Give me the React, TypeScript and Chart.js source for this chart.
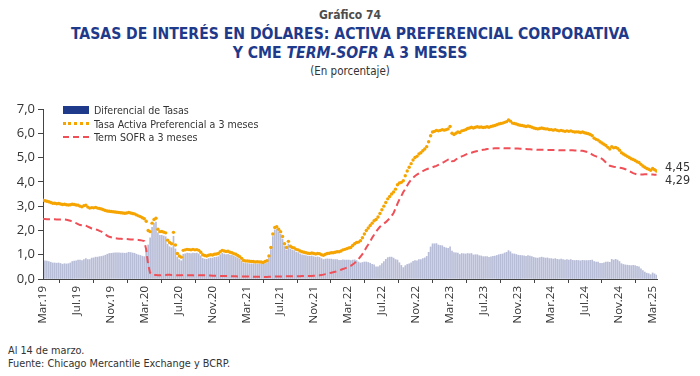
import React, { useEffect, useRef } from 'react';
import { Chart, registerables } from 'chart.js';

Chart.register(...registerables);

// Weekly observations (Fridays) from 1 Mar 2019 to 14 Mar 2025
const START_LABEL = '1 mar 2019';
const tickLabels = [
  'Mar.19', 'Jul.19', 'Nov.19', 'Mar.20', 'Jul.20', 'Nov.20', 'Mar.21', 'Jul.21', 'Nov.21', 'Mar.22',
  'Jul.22', 'Nov.22', 'Mar.23', 'Jul.23', 'Nov.23', 'Mar.24', 'Jul.24', 'Nov.24', 'Mar.25',
];
const tickMonths = [0, 4, 8, 12, 16, 20, 24, 28, 32, 36, 40, 44, 48, 52, 56, 60, 64, 68, 72];
const yTicks = [0, 1, 2, 3, 4, 5, 6, 7];

// Tasa Activa Preferencial a 3 meses (%)
const tasaActiva = [
  // mar.19 - feb.20
  3.24, 3.22, 3.20, 3.18, 3.15, 3.12, 3.12, 3.10, 3.11, 3.09,
  3.07, 3.08, 3.06, 3.05, 3.06, 3.08, 3.07, 3.05, 3.04, 3.00,
  2.97, 3.02, 3.04, 2.96, 2.92, 2.94, 2.93, 2.95, 2.92, 2.90,
  2.88, 2.85, 2.82, 2.80, 2.79, 2.78, 2.77, 2.76, 2.75, 2.74,
  2.73, 2.72, 2.71, 2.72, 2.74, 2.72, 2.70, 2.68, 2.64, 2.60,
  2.57, 2.52, 2.48,
  // mar.20 - feb.21
  2.38, 2.00, 1.95, 2.30, 2.45, 2.50, 2.05, 1.95, 1.96, 1.93,
  1.90, 1.60, 1.50, 1.45, 1.92, 1.40, 1.05, 0.95, 0.90, 1.18,
  1.20, 1.22, 1.21, 1.20, 1.22, 1.20, 1.21, 1.18, 1.10, 1.00,
  0.97, 0.95, 0.98, 1.00, 0.99, 1.02, 1.03, 1.05, 1.12, 1.18,
  1.15, 1.13, 1.14, 1.10, 1.08, 1.04, 1.02, 0.97, 0.92, 0.85,
  0.76, 0.74,
  // mar.21 - feb.22
  0.74, 0.73, 0.72, 0.72, 0.70, 0.71, 0.70, 0.70, 0.68, 0.72,
  0.75, 0.95, 1.30, 1.85, 2.12, 2.15, 2.05, 1.95, 1.75, 1.45,
  1.30, 1.55, 1.35, 1.30, 1.28, 1.22, 1.20, 1.15, 1.12, 1.10,
  1.08, 1.06, 1.05, 1.07, 1.05, 1.03, 1.05, 1.04, 1.00, 0.98,
  1.02, 1.05, 1.06, 1.08, 1.08, 1.10, 1.12, 1.12, 1.15, 1.20,
  1.22, 1.25,
  // mar.22 - feb.23
  1.28, 1.30, 1.38, 1.45, 1.50, 1.52, 1.58, 1.70, 1.85, 2.00,
  2.10, 2.20, 2.30, 2.40, 2.45, 2.55, 2.70, 2.85, 3.00, 3.15,
  3.30, 3.40, 3.50, 3.58, 3.70, 3.88, 3.95, 3.98, 4.05, 4.25,
  4.45, 4.60, 4.75, 4.90, 5.00, 5.05, 5.15, 5.20, 5.28, 5.35,
  5.45, 5.65, 5.90, 6.05, 6.08, 6.12, 6.10, 6.12, 6.15, 6.13,
  6.15, 6.18,
  // mar.23 - feb.24
  6.28, 6.00, 5.95, 6.00, 6.05, 6.03, 6.10, 6.12, 6.15, 6.20,
  6.22, 6.25, 6.22, 6.25, 6.27, 6.25, 6.26, 6.24, 6.25, 6.27,
  6.25, 6.28, 6.30, 6.32, 6.35, 6.38, 6.40, 6.42, 6.45, 6.48,
  6.55, 6.50, 6.42, 6.40, 6.38, 6.35, 6.33, 6.32, 6.30, 6.28,
  6.30, 6.28, 6.25, 6.22, 6.20, 6.18, 6.20, 6.22, 6.20, 6.18,
  6.18, 6.15,
  // mar.24 - mar.25
  6.15, 6.13, 6.15, 6.12, 6.10, 6.12, 6.10, 6.08, 6.10, 6.08,
  6.10, 6.07, 6.05, 6.06, 6.05, 6.03, 6.05, 6.02, 6.00, 5.98,
  5.95, 5.90, 5.80, 5.75, 5.72, 5.65, 5.60, 5.55, 5.50, 5.42,
  5.35, 5.45, 5.40, 5.42, 5.38, 5.30, 5.20, 5.15, 5.10, 5.05,
  5.00, 4.95, 4.92, 4.88, 4.83, 4.80, 4.72, 4.65, 4.60, 4.55,
  4.52, 4.48, 4.55, 4.50, 4.45,
];

// CME Term SOFR a 3 meses (%)
const termSofr = [
  // mar.19 - feb.20
  2.47, 2.47, 2.46, 2.46, 2.46, 2.46, 2.46, 2.45, 2.45, 2.45,
  2.46, 2.45, 2.44, 2.42, 2.40, 2.36, 2.33, 2.30, 2.26, 2.22,
  2.21, 2.22, 2.20, 2.16, 2.12, 2.08, 2.06, 2.05, 2.02, 1.98,
  1.95, 1.90, 1.84, 1.78, 1.74, 1.72, 1.70, 1.68, 1.67, 1.66,
  1.66, 1.65, 1.65, 1.65, 1.64, 1.63, 1.63, 1.62, 1.62, 1.61,
  1.60, 1.58, 1.56,
  // mar.20 - feb.21
  1.20, 0.60, 0.25, 0.17, 0.16, 0.16, 0.15, 0.15, 0.16, 0.16,
  0.16, 0.17, 0.17, 0.16, 0.16, 0.16, 0.15, 0.15, 0.15, 0.16,
  0.16, 0.15, 0.15, 0.15, 0.15, 0.14, 0.14, 0.15, 0.15, 0.15,
  0.15, 0.14, 0.14, 0.14, 0.13, 0.13, 0.13, 0.13, 0.12, 0.12,
  0.12, 0.12, 0.12, 0.11, 0.11, 0.11, 0.11, 0.10, 0.10, 0.10,
  0.10, 0.10,
  // mar.21 - feb.22
  0.10, 0.10, 0.10, 0.09, 0.09, 0.09, 0.09, 0.08, 0.08, 0.08,
  0.08, 0.09, 0.09, 0.10, 0.10, 0.10, 0.10, 0.10, 0.11, 0.11,
  0.11, 0.11, 0.11, 0.11, 0.11, 0.11, 0.11, 0.11, 0.12, 0.12,
  0.12, 0.12, 0.12, 0.12, 0.13, 0.13, 0.14, 0.15, 0.16, 0.18,
  0.20, 0.22, 0.24, 0.26, 0.28, 0.30, 0.32, 0.35, 0.38, 0.41,
  0.44, 0.47,
  // mar.22 - feb.23
  0.50, 0.54, 0.60, 0.66, 0.74, 0.82, 0.92, 1.02, 1.15, 1.30,
  1.42, 1.55, 1.70, 1.82, 1.95, 2.05, 2.15, 2.22, 2.28, 2.34,
  2.42, 2.50, 2.60, 2.72, 2.90, 3.10, 3.28, 3.42, 3.58, 3.70,
  3.85, 3.98, 4.08, 4.17, 4.24, 4.30, 4.35, 4.40, 4.44, 4.48,
  4.52, 4.55, 4.58, 4.60, 4.63, 4.66, 4.70, 4.74, 4.78, 4.82,
  4.87, 4.92,
  // mar.23 - feb.24
  4.96, 4.85, 4.86, 4.92, 4.98, 5.02, 5.05, 5.08, 5.12, 5.15,
  5.18, 5.20, 5.23, 5.25, 5.27, 5.29, 5.31, 5.32, 5.33, 5.35,
  5.36, 5.37, 5.37, 5.38, 5.38, 5.38, 5.38, 5.39, 5.38, 5.38,
  5.38, 5.38, 5.38, 5.37, 5.37, 5.37, 5.36, 5.36, 5.35, 5.35,
  5.34, 5.34, 5.33, 5.33, 5.33, 5.32, 5.32, 5.32, 5.32, 5.32,
  5.31, 5.31,
  // mar.24 - mar.25
  5.31, 5.31, 5.31, 5.31, 5.30, 5.30, 5.30, 5.30, 5.30, 5.30,
  5.30, 5.30, 5.29, 5.29, 5.29, 5.28, 5.28, 5.26, 5.24, 5.22,
  5.18, 5.12, 5.08, 5.05, 5.02, 5.00, 4.95, 4.88, 4.80, 4.72,
  4.66, 4.64, 4.62, 4.61, 4.60, 4.58, 4.57, 4.55, 4.52, 4.48,
  4.44, 4.40, 4.36, 4.33, 4.31, 4.30, 4.30, 4.30, 4.31, 4.31,
  4.30, 4.30, 4.30, 4.29, 4.29,
];

// Diferencial de Tasas = Tasa activa preferencial - Term SOFR
const diferencial = tasaActiva.map((v, i) => Math.round((v - termSofr[i]) * 100) / 100);

// observation dates expressed in months since 1 Mar 2019 (one per week)
const obsMonths = tasaActiva.map((_, i) => (i * 7) / 30.4375);

const NAVY = '#1f3a8a';
const ORANGE = '#f5a400';
const RED = '#ef5058';
const TEXT = '#333333';
const NARROW = "'DejaVu Sans Condensed', 'Open Sans', sans-serif";

const fmt = (v: number) => v.toFixed(2).replace('.', ',');

const endLabels = {
  id: 'endLabels',
  afterDatasetsDraw(chart: any) {
    const { ctx, chartArea, scales } = chart;
    const last = tasaActiva.length - 1;
    ctx.save();
    ctx.font = `12.5px ${NARROW}`;
    ctx.fillStyle = TEXT;
    ctx.textAlign = 'left';
    ctx.textBaseline = 'middle';
    const x = chartArea.right + 8;
    ctx.fillText(fmt(tasaActiva[last]), x, scales.y.getPixelForValue(tasaActiva[last]) - 3);
    ctx.fillText(fmt(termSofr[last]), x, scales.y.getPixelForValue(termSofr[last]) + 6);
    ctx.restore();
  },
};

function ChartCanvas() {
  const ref = useRef<HTMLCanvasElement | null>(null);
  useEffect(() => {
    if (!ref.current) return;
    const chart = new Chart(ref.current, {
      type: 'bar',
      data: {
        datasets: [
          {
            type: 'line',
            label: 'Tasa Activa Preferencial a 3 meses',
            data: tasaActiva.map((y, i) => ({ x: obsMonths[i], y })),
            showLine: false,
            pointRadius: 1.7,
            pointBorderWidth: 0,
            pointBackgroundColor: ORANGE,
            borderColor: ORANGE,
            order: 1,
          },
          {
            type: 'line',
            label: 'Term SOFR a 3 meses',
            data: termSofr.map((y, i) => ({ x: obsMonths[i], y })),
            borderColor: RED,
            borderWidth: 2,
            borderDash: [7, 4],
            pointRadius: 0,
            fill: false,
            tension: 0,
            order: 2,
          },
          {
            type: 'bar',
            label: 'Diferencial de Tasas',
            data: diferencial.map((y, i) => ({ x: obsMonths[i], y })),
            backgroundColor: 'rgba(55, 70, 145, 0.36)',
            barThickness: 1,
            order: 3,
          },
        ],
      } as any,
      options: {
        animation: false,
        responsive: false,
        devicePixelRatio: 1,
        events: [],
        layout: { padding: { top: 14, right: 43, left: 0, bottom: 0 } },
        plugins: { legend: { display: false }, tooltip: { enabled: false } },
        scales: {
          x: {
            type: 'linear',
            min: 0,
            max: 72.5,
            offset: false,
            grid: { drawOnChartArea: false, drawTicks: true, tickLength: 4, color: '#444' },
            border: { display: true, color: '#444', width: 1 },
            afterBuildTicks: (s: any) => {
              s.ticks = tickMonths.map((v) => ({ value: v }));
            },
            afterFit: (s: any) => {
              s.height = 56;
            },
            ticks: {
              autoSkip: false,
              minRotation: 90,
              maxRotation: 90,
              padding: 3,
              color: TEXT,
              font: { family: "'Open Sans', sans-serif", size: 11.5 },
              callback: (v: any) => tickLabels[tickMonths.indexOf(Number(v))] ?? '',
            },
          },
          y: {
            min: 0,
            max: 7,
            afterBuildTicks: (s: any) => {
              s.ticks = yTicks.map((v) => ({ value: v }));
            },
            afterFit: (s: any) => {
              s.width = 43;
            },
            grid: { drawOnChartArea: false, drawTicks: true, tickLength: 5, color: '#444' },
            border: { display: true, color: '#444', width: 1 },
            ticks: {
              padding: 3,
              color: TEXT,
              font: { family: "'Open Sans', sans-serif", size: 13 },
              callback: (v: any) => Number(v).toFixed(1).replace('.', ','),
            },
          },
        },
      } as any,
      plugins: [endLabels],
    });
    return () => chart.destroy();
  }, []);
  return (
    <canvas
      ref={ref}
      width={700}
      height={240}
      style={{ position: 'absolute', left: 0, top: 95, width: 700, height: 240 }}
      aria-label={`Serie semanal desde ${START_LABEL}`}
    />
  );
}

const abs = (extra: React.CSSProperties): React.CSSProperties => ({ position: 'absolute', whiteSpace: 'nowrap', ...extra });

export default function App() {
  return (
    <div style={{ position: 'absolute', left: 0, top: 0, width: 700, height: 376, background: '#fff', fontFamily: NARROW, color: TEXT, overflow: 'hidden' }}>
      <div style={abs({ left: 0, top: 8, width: 700, textAlign: 'center', fontSize: 12, lineHeight: '14px', fontWeight: 700, color: '#4d4d4d' })}>Gráfico 74</div>
      <div style={abs({ left: 0, top: 25, width: 700, textAlign: 'center', fontSize: 15.6, lineHeight: '18px', fontWeight: 700, color: NAVY })}>
        TASAS DE INTERÉS EN DÓLARES: ACTIVA PREFERENCIAL CORPORATIVA
      </div>
      <div style={abs({ left: 0, top: 44, width: 700, textAlign: 'center', fontSize: 15.6, lineHeight: '18px', fontWeight: 700, color: NAVY })}>
        Y CME <i>TERM-SOFR</i> A 3 MESES
      </div>
      <div style={abs({ left: 0, top: 63, width: 700, textAlign: 'center', fontSize: 11.5, lineHeight: '16px', color: TEXT })}>(En porcentaje)</div>

      <ChartCanvas />

      {/* legend */}
      <div style={abs({ left: 63, top: 106, width: 26, height: 8, background: NAVY })} />
      <div style={abs({ left: 94, top: 103, fontSize: 10.6, lineHeight: '14px' })}>Diferencial de Tasas</div>
      <div style={abs({ left: 63, top: 122, width: 26, height: 0, borderTop: `3px dotted ${ORANGE}` })} />
      <div style={abs({ left: 94, top: 116.5, fontSize: 10.6, lineHeight: '14px' })}>Tasa Activa Preferencial a 3 meses</div>
      <div style={abs({ left: 63, top: 136, width: 26, height: 0, borderTop: `2px dashed ${RED}` })} />
      <div style={abs({ left: 94, top: 130, fontSize: 10.6, lineHeight: '14px' })}>Term SOFR a 3 meses</div>

      <div style={abs({ left: 8, top: 344, fontSize: 10.8, lineHeight: '13px' })}>Al 14 de marzo.</div>
      <div style={abs({ left: 8, top: 357, fontSize: 10.8, lineHeight: '13px' })}>Fuente: Chicago Mercantile Exchange y BCRP.</div>
    </div>
  );
}
